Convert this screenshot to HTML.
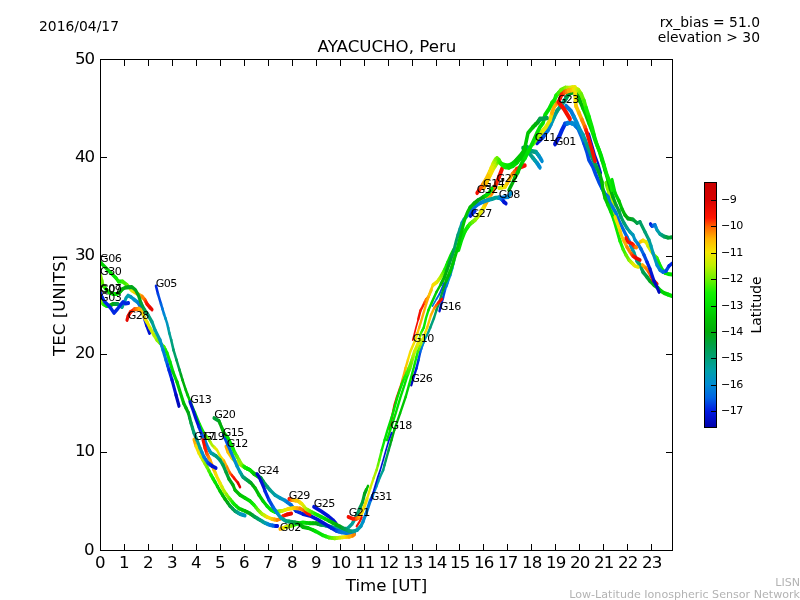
<!DOCTYPE html>
<html lang="en"><head><meta charset="utf-8"><title>AYACUCHO, Peru - TEC</title>
<style>
html,body{margin:0;padding:0;background:#fff;}
body{width:800px;height:600px;overflow:hidden;}
svg{display:block;font-family:"DejaVu Sans","Liberation Sans",sans-serif;}
.t12{font-size:16.67px;}
.t10{font-size:13.89px;}
.sat{font-size:11.1px;letter-spacing:-0.55px;}
.ft{font-size:11.1px;fill:#b3b3b3;}
.ax{stroke:#000;stroke-width:1;fill:none;shape-rendering:crispEdges;}
.c{fill:none;stroke-width:3.1;stroke-linecap:round;stroke-linejoin:round;}
</style></head><body>
<svg width="800" height="600" viewBox="0 0 800 600">
<defs><linearGradient id="cb" x1="0" y1="1" x2="0" y2="0">
<stop offset="0" stop-color="#0000aa"/><stop offset="0.065" stop-color="#0019e1"/><stop offset="0.12" stop-color="#0064e4"/><stop offset="0.175" stop-color="#008cd2"/><stop offset="0.23" stop-color="#00a0aa"/><stop offset="0.28" stop-color="#00a078"/><stop offset="0.335" stop-color="#00a046"/><stop offset="0.39" stop-color="#00aa0a"/><stop offset="0.445" stop-color="#00c300"/><stop offset="0.5" stop-color="#00e100"/><stop offset="0.55" stop-color="#14f000"/><stop offset="0.605" stop-color="#6ef000"/><stop offset="0.66" stop-color="#bef000"/><stop offset="0.715" stop-color="#f5e600"/><stop offset="0.77" stop-color="#ffb400"/><stop offset="0.82" stop-color="#ff6400"/><stop offset="0.855" stop-color="#ff1400"/><stop offset="0.93" stop-color="#d70000"/><stop offset="1" stop-color="#c80000"/></linearGradient></defs>
<clipPath id="axclip"><rect x="100.5" y="59.5" width="572" height="491"/></clipPath>
<rect width="800" height="600" fill="#fff"/>
<g clip-path="url(#axclip)"><g class="c" transform="scale(1,1.25)"><g><path stroke="#66f000" stroke-width="3.35" d="M606,146.4 607.5,150.4"/><path stroke="#8bf000" stroke-width="3.32" d="M607.5,150.4 609,154.4"/><path stroke="#aff000" stroke-width="3.29" d="M609,154.4 612,161.6"/><path stroke="#cded00" stroke-width="3.25" d="M612,161.6 613.5,167.6"/><path stroke="#e6e900" stroke-width="3.21" d="M613.5,167.6 615,173.6"/></g><g stroke-width="3.29"><path stroke="#0013d4" stroke-width="3.79" d="M555,115.2 559,109.6"/><path stroke="#0027e2" stroke-width="3.85" d="M559,109.6 562,104 565,99.2"/><path stroke="#0049e3" stroke-width="3.88" d="M565,99.2 567.5,98.6"/><path stroke="#007ada" stroke-width="3.88" d="M567.5,98.6 570,98 572,98.6"/><path stroke="#008cd2" stroke-width="3.88" d="M572,98.6 574,99.2 576,100.8"/><path stroke="#007ada" stroke-width="3.86" d="M576,100.8 578,102.4"/><path stroke="#0068e2" stroke-width="3.82" d="M578,102.4 581,108 584,114.4"/><path stroke="#0049e3" stroke-width="3.65" d="M584,114.4 587,121.6 589,128 593,133.6 596,140 599,145.6 602,150.4"/><path stroke="#0068e2" stroke-width="3.52" d="M602,150.4 605,155.2 608,157.6"/><path stroke="#007ada" stroke-width="3.44" d="M608,157.6 610,162.4 613,166.4 616,170.4 618,175.2"/><path stroke="#0068e2" d="M618,175.2 621,180 624,184.8 627,189.6"/><path stroke="#007ada" d="M627,189.6 629,192.8"/><path stroke="#008cd2" d="M629,192.8 631,196.8"/><path stroke="#0095c0" d="M631,196.8 632.5,199.6"/><path stroke="#009eae" d="M632.5,199.6 634,202.4"/><path stroke="#00a096" d="M634,202.4 635.5,205.6 637,208.8"/><path stroke="#00a07d" d="M637,208.8 640,212"/><path stroke="#00a066" d="M640,212 643,217.6"/><path stroke="#00a04f" d="M643,217.6 647,221.6"/><path stroke="#00a336" d="M647,221.6 648.5,223.2 650,224.8"/><path stroke="#00a71a" d="M650,224.8 654,228"/><path stroke="#00ba04" d="M654,228 658,230.4"/><path stroke="#00c600" d="M658,230.4 661,232.8"/><path stroke="#00d300" d="M661,232.8 664,234.4 668,235.6"/><path stroke="#00e100" d="M668,235.6 672,236.8"/></g><g><path stroke="#ffac00" d="M280,423.2 281.5,422.8"/><path stroke="#fbc600" d="M281.5,422.8 283,422.4"/><path stroke="#f7dd00" d="M283,422.4 284.5,422"/><path stroke="#e6e900" d="M284.5,422 286,421.6"/><path stroke="#cded00" d="M286,421.6 288,421.2"/><path stroke="#aff000" d="M288,421.2 290,420.8"/><path stroke="#8bf000" d="M290,420.8 292,420.4"/><path stroke="#66f000" d="M292,420.4 294,420"/><path stroke="#3df000" d="M294,420 296,419.4"/><path stroke="#14f000" d="M296,419.4 298,418.8"/><path stroke="#0ae800" d="M298,418.8 300.5,418.4"/><path stroke="#00e100" d="M300.5,418.4 303,418 306.5,418.3"/><path stroke="#00d300" d="M306.5,418.3 310,418.6"/><path stroke="#00c600" d="M310,418.6 313,418.6"/><path stroke="#00ba04" d="M313,418.6 316,418.6"/><path stroke="#00af08" d="M316,418.6 317.8,419"/><path stroke="#00a71a" d="M317.8,419 319.5,419.4"/><path stroke="#00a336" d="M319.5,419.4 321.2,419.8"/><path stroke="#00a04f" d="M321.2,419.8 323.5,420.1"/><path stroke="#00a066" d="M323.5,420.1 325.8,420.4"/><path stroke="#00a07d" d="M325.8,420.4 335,422.4"/><path stroke="#00a096" d="M335,422.4 342,423.2 347.5,422.8 352,419.2 354.2,416.2 356.1,413.2"/><path stroke="#00a07d" d="M356.1,413.2 358,410.2"/><path stroke="#00a066" d="M358,410.2 360.2,406"/><path stroke="#00a04f" d="M360.2,406 362.5,401.8"/><path stroke="#00a336" d="M362.5,401.8 363.5,398.5 364.5,395.2"/><path stroke="#00a71a" d="M364.5,395.2 366.2,392"/><path stroke="#00ba04" stroke-width="2.36" d="M366.2,392 368,388.8"/></g><g><path stroke="#aff000" d="M100.5,239.2 101.8,241.2"/><path stroke="#8bf000" d="M101.8,241.2 103,243.2"/><path stroke="#3df000" d="M103,243.2 104.3,243.7"/><path stroke="#14f000" d="M104.3,243.7 105.7,244.3"/><path stroke="#0ae800" d="M105.7,244.3 107,244.8"/><path stroke="#00e100" d="M107,244.8 108,244.7"/><path stroke="#00d300" d="M108,244.7 109,244.5"/><path stroke="#00c600" d="M109,244.5 110,244.4 111,244"/><path stroke="#00ba04" d="M111,244 112,243.6"/><path stroke="#00af08" d="M112,243.6 113,243.2"/><path stroke="#00a71a" d="M113,243.2 115.2,243.2"/><path stroke="#00a336" d="M115.2,243.2 117.5,243.2"/><path stroke="#00a04f" d="M117.5,243.2 119.8,244.4"/><path stroke="#00a07d" d="M119.8,244.4 122,245.6"/><path stroke="#00a096" d="M122,245.6 124.5,241.6"/><path stroke="#009eae" d="M124.5,241.6 126,238.4 128,236.4 131,237.6"/><path stroke="#0095c0" d="M131,237.6 134,239.6"/><path stroke="#008cd2" d="M134,239.6 138,242"/><path stroke="#007ada" d="M138,242 140,244.8"/><path stroke="#0068e2" d="M140,244.8 143,251.2"/><path stroke="#0027e2" d="M143,251.2 146.5,260"/><path stroke="#0013d4" d="M146.5,260 148,263.2 149.5,266.4"/></g><g><path stroke="#fbc600" d="M640,193.6 643,192.4"/><path stroke="#f7dd00" d="M643,192.4 646,193.6"/><path stroke="#e6e900" d="M646,193.6 648,196.8"/><path stroke="#cded00" d="M648,196.8 651,200.8 654,204"/><path stroke="#aff000" d="M654,204 655.5,205.2"/><path stroke="#66f000" d="M655.5,205.2 657,206.4"/><path stroke="#3df000" d="M657,206.4 658,208.4"/><path stroke="#14f000" d="M658,208.4 659,210.4"/><path stroke="#0ae800" d="M659,210.4 662,215.2 665,218.4"/><path stroke="#00e100" d="M665,218.4 668,219.2 672,219.6"/></g><g><path stroke="#0013d4" d="M650.5,179.2 651.2,180"/><path stroke="#0027e2" d="M651.2,180 652,180.8"/><path stroke="#0049e3" d="M652,180.8 653.5,180.4"/><path stroke="#0068e2" d="M653.5,180.4 655,180"/><path stroke="#007ada" d="M655,180 656,182"/><path stroke="#008cd2" d="M656,182 657,184"/><path stroke="#009eae" d="M657,184 660,187.2"/><path stroke="#00a096" d="M660,187.2 662,188.2"/><path stroke="#00a07d" d="M662,188.2 664,189.2"/><path stroke="#00a066" d="M664,189.2 666,189.6"/><path stroke="#00a04f" d="M666,189.6 668,190.1"/><path stroke="#00a336" d="M668,190.1 670,190 672,189.8"/></g><g stroke-width="2.52"><path stroke="#0027e2" d="M156,228.8 158,235.2"/><path stroke="#0049e3" d="M158,235.2 161,243.2"/><path stroke="#0068e2" d="M161,243.2 162.5,247.2"/><path stroke="#007ada" d="M162.5,247.2 164,251.2"/><path stroke="#008cd2" d="M164,251.2 165.5,254.8"/><path stroke="#0095c0" d="M165.5,254.8 167,258.4 168.2,262.4"/><path stroke="#009eae" d="M168.2,262.4 169.3,266.4"/><path stroke="#00a096" d="M169.3,266.4 171.2,272"/><path stroke="#00a07d" d="M171.2,272 173.5,280"/><path stroke="#00a066" d="M173.5,280 176.5,288"/><path stroke="#00a04f" d="M176.5,288 179.5,296"/><path stroke="#00a336" d="M179.5,296 181,300"/><path stroke="#00a71a" d="M181,300 182.5,304"/><path stroke="#00af08" d="M182.5,304 185.8,312"/><path stroke="#00ba04" d="M185.8,312 187.6,316"/><path stroke="#00c600" d="M187.6,316 190,320.8"/><path stroke="#00d300" d="M190,320.8 195,330.4"/><path stroke="#00e100" d="M195,330.4 197.5,335.2 200,340"/><path stroke="#0ae800" d="M200,340 204,346.4"/><path stroke="#3df000" d="M204,346.4 208,350.4"/><path stroke="#66f000" d="M208,350.4 209.3,352.3"/><path stroke="#8bf000" d="M209.3,352.3 210.7,354.1"/><path stroke="#aff000" d="M210.7,354.1 212,356 214.5,358"/><path stroke="#e6e900" d="M214.5,358 217,360 220,364.8"/><path stroke="#f7dd00" d="M220,364.8 224,368.8"/><path stroke="#ffac00" d="M224,368.8 227,373.6"/><path stroke="#ff8400" d="M227,373.6 228.5,376 230,378.4"/><path stroke="#ff5900" d="M230,378.4 232,380.4"/><path stroke="#ff1f00" d="M232,380.4 234,382.4"/><path stroke="#f40f00" d="M234,382.4 238,386.4"/><path stroke="#da0100" d="M238,386.4 240,389.6"/></g><g><path stroke="#00d300" d="M100.5,210 105,213.6 110,217.6"/><path stroke="#00e100" d="M110,217.6 116,222.4"/><path stroke="#0ae800" d="M116,222.4 118.5,225.2"/><path stroke="#14f000" d="M118.5,225.2 122.5,225.2"/><path stroke="#3df000" d="M122.5,225.2 127,228"/><path stroke="#66f000" d="M127,228 128.4,229.2"/><path stroke="#aff000" d="M128.4,229.2 129.8,230.4 131.1,231.6"/><path stroke="#e6e900" d="M131.1,231.6 132.5,232.8 134.8,233.8"/><path stroke="#fbc600" d="M134.8,233.8 137,234.8"/><path stroke="#ffac00" d="M137,234.8 142,237.2"/><path stroke="#ff8400" d="M142,237.2 143.5,238.6 145,240"/><path stroke="#ff5900" d="M145,240 146,241.6"/><path stroke="#ff1f00" d="M146,241.6 147,243.2"/><path stroke="#f40f00" d="M147,243.2 150,246"/><path stroke="#e70800" d="M150,246 152,247.6"/></g><g stroke-width="1.94"><path stroke="#0013d4" stroke-width="2.18" d="M589,107.2 595,124 598,130.4 601,138.4"/></g><g><path stroke="#007ada" stroke-width="3.71" d="M566,84.8 571,88.8 574,93.6"/><path stroke="#008cd2" stroke-width="3.66" d="M574,93.6 577,98.4 579,102.4"/><path stroke="#0095c0" stroke-width="3.61" d="M579,102.4 583,108"/><path stroke="#009eae" stroke-width="3.58" d="M583,108 585,112"/><path stroke="#00a096" stroke-width="3.56" d="M585,112 587,116"/><path stroke="#00a07d" stroke-width="3.52" d="M587,116 591,124"/><path stroke="#00a066" stroke-width="3.47" d="M591,124 594,129.6 595.5,132"/><path stroke="#00a04f" stroke-width="3.44" d="M595.5,132 597,134.4"/><path stroke="#00a336" stroke-width="3.42" d="M597,134.4 598.5,137.2"/><path stroke="#00a71a" stroke-width="3.41" d="M598.5,137.2 600,140"/><path stroke="#00af08" stroke-width="3.38" d="M600,140 601,142.8 602,145.6"/><path stroke="#00ba04" stroke-width="3.32" d="M602,145.6 603,152 605,158.4"/><path stroke="#00c600" stroke-width="3.27" d="M605,158.4 608,164"/><path stroke="#00d300" stroke-width="3.23" d="M608,164 611,169.6"/><path stroke="#00e100" stroke-width="3.19" d="M611,169.6 614,176"/><path stroke="#0ae800" d="M614,176 616,181.6 618,187.2 620,192.8"/><path stroke="#14f000" d="M620,192.8 623,199.2"/><path stroke="#3df000" d="M623,199.2 626,204"/><path stroke="#66f000" d="M626,204 629,208"/><path stroke="#8bf000" d="M629,208 630.5,209.2"/><path stroke="#aff000" d="M630.5,209.2 632,210.4"/><path stroke="#cded00" d="M632,210.4 633.5,211.6"/><path stroke="#e6e900" d="M633.5,211.6 635,212.8 638,213.6"/></g><g><path stroke="#00a07d" stroke-width="3.49" d="M529,122.4 533,126.4"/><path stroke="#00a096" stroke-width="3.48" d="M533,126.4 535,128.4"/><path stroke="#009eae" stroke-width="3.46" d="M535,128.4 537,130.4"/><path stroke="#0095c0" stroke-width="3.45" d="M537,130.4 538.5,132.2"/><path stroke="#008cd2" stroke-width="3.44" d="M538.5,132.2 540,134"/></g><g><path stroke="#00a04f" stroke-width="3.53" d="M523,118.4 527,117.6"/><path stroke="#00a066" stroke-width="3.53" d="M527,117.6 529,119.2"/><path stroke="#00a07d" stroke-width="3.52" d="M529,119.2 531,120.8 536,121.6"/><path stroke="#00a096" stroke-width="3.51" d="M536,121.6 537.5,123.2"/><path stroke="#009eae" stroke-width="3.50" d="M537.5,123.2 539,124.8"/><path stroke="#0095c0" stroke-width="3.49" d="M539,124.8 540.5,126.8"/><path stroke="#008cd2" stroke-width="3.47" d="M540.5,126.8 542,128.8"/></g><g><path stroke="#007ada" stroke-width="3.29" d="M498.5,158.4 503,158 508,157.6"/><path stroke="#008cd2" stroke-width="3.30" d="M508,157.6 511,154.4"/></g><g><path stroke="#0013d4" d="M100.5,234.4 102,237.6"/><path stroke="#0027e2" d="M102,237.6 104.5,241.2 108,244 111,246.8 114,250.4 117.5,247.2 120.5,244 123,241.6 125.5,242.8 128.5,242.4"/></g><g stroke-width="2.23"><path stroke="#f40f00" stroke-width="1.69" d="M412.8,272 416,262 418.4,255.2"/></g><g><path stroke="#f40f00" stroke-width="2.36" d="M418.3,255.2 420.4,248.6"/><path stroke="#ff1f00" stroke-width="2.36" d="M420.4,248.6 422.5,245.4 424.6,242"/><path stroke="#ff5900" stroke-width="2.36" d="M424.6,242 426,239.6"/><path stroke="#ff8400" stroke-width="2.36" d="M426,239.6 428.5,237.2"/><path stroke="#ffac00" stroke-width="2.36" d="M428.5,237.2 431,232"/><path stroke="#fbc600" stroke-width="2.36" d="M431,232 433,228"/><path stroke="#f7dd00" d="M433,228 437,225.6"/><path stroke="#e6e900" d="M437,225.6 438.5,224"/><path stroke="#cded00" d="M438.5,224 440,222.4"/><path stroke="#aff000" d="M440,222.4 441.5,220.4"/><path stroke="#8bf000" d="M441.5,220.4 443,218.4"/><path stroke="#66f000" d="M443,218.4 444,216.8"/><path stroke="#3df000" d="M444,216.8 445,215.2"/><path stroke="#14f000" d="M445,215.2 446.5,212.4"/><path stroke="#0ae800" d="M446.5,212.4 448,209.6"/><path stroke="#00e100" d="M448,209.6 451,204 453.5,200"/></g><g><path stroke="#ffac00" d="M642.5,212 645.8,214.4"/><path stroke="#ff8400" d="M645.8,214.4 648.8,217.6"/><path stroke="#ff5900" d="M648.8,217.6 651,220.8"/><path stroke="#ff1f00" d="M651,220.8 652,222.4 653,224"/><path stroke="#f40f00" d="M653,224 657,227.2"/></g><g><path stroke="#0013d4" stroke-width="3.56" d="M537,114.4 540,112"/><path stroke="#0027e2" stroke-width="3.58" d="M540,112 543,109.6"/><path stroke="#0049e3" stroke-width="3.59" d="M543,109.6 545.5,106.8"/><path stroke="#0068e2" stroke-width="3.61" d="M545.5,106.8 548,104"/><path stroke="#007ada" stroke-width="3.63" d="M548,104 549.5,101.6"/><path stroke="#008cd2" stroke-width="3.64" d="M549.5,101.6 551,99.2"/><path stroke="#0095c0" stroke-width="3.66" d="M551,99.2 552.5,96.4"/><path stroke="#009eae" stroke-width="3.68" d="M552.5,96.4 554,93.6"/><path stroke="#00a096" stroke-width="3.70" d="M554,93.6 557,88.8"/><path stroke="#00a07d" stroke-width="3.72" d="M557,88.8 560,85.6 565,80"/><path stroke="#00a066" stroke-width="3.72" d="M565,80 566.5,78"/><path stroke="#00a04f" stroke-width="3.72" d="M566.5,78 568,76"/><path stroke="#00a336" stroke-width="3.72" d="M568,76 570,74.4"/><path stroke="#00a71a" stroke-width="3.72" d="M570,74.4 575,73.6"/><path stroke="#00af08" stroke-width="3.72" d="M575,73.6 578,76 580,80.8"/><path stroke="#00ba04" stroke-width="3.72" d="M580,80.8 583,86.4"/><path stroke="#00c600" stroke-width="3.69" d="M583,86.4 586,92 589,98.4"/><path stroke="#00d300" stroke-width="3.57" d="M589,98.4 592,104.8 595,112 599,120 602,128"/><path stroke="#00c600" stroke-width="3.45" d="M602,128 605,136"/><path stroke="#00ba04" stroke-width="3.40" d="M605,136 608,144"/><path stroke="#00af08" stroke-width="3.33" d="M608,144 610,150.4 613,157.6"/><path stroke="#00a71a" stroke-width="3.27" d="M613,157.6 616,164"/><path stroke="#00a336" stroke-width="3.23" d="M616,164 619,168.8"/><path stroke="#00a04f" stroke-width="3.20" d="M619,168.8 621,173.6"/><path stroke="#00a066" d="M621,173.6 624,178.4"/><path stroke="#00a07d" d="M624,178.4 627,182.4"/><path stroke="#00a096" d="M627,182.4 630,185.6"/><path stroke="#009eae" d="M630,185.6 633,188"/><path stroke="#0095c0" d="M633,188 635,192"/><path stroke="#008cd2" d="M635,192 638,195.2"/><path stroke="#007ada" d="M638,195.2 641,199.2"/><path stroke="#0068e2" d="M641,199.2 644,204"/><path stroke="#0049e3" d="M644,204 647,209.6"/><path stroke="#0027e2" d="M647,209.6 650,215.2"/><path stroke="#0013d4" d="M650,215.2 652,220 654,224.8"/><path stroke="#000abf" d="M654,224.8 657,229.6 659,233.6"/></g><g><path stroke="#ffac00" d="M226,357.2 228,361.6"/><path stroke="#fbc600" d="M228,361.6 232,366.4"/><path stroke="#f7dd00" d="M232,366.4 236,369.6"/><path stroke="#e6e900" d="M236,369.6 238.5,370.8"/><path stroke="#cded00" d="M238.5,370.8 241,372"/><path stroke="#aff000" d="M241,372 243,373"/><path stroke="#8bf000" d="M243,373 245,374"/><path stroke="#3df000" d="M245,374 246.7,374.7"/><path stroke="#14f000" d="M246.7,374.7 248.3,375.3"/><path stroke="#0ae800" d="M248.3,375.3 250,376"/><path stroke="#00e100" d="M250,376 252,377.6"/><path stroke="#00d300" d="M252,377.6 254,379.2"/><path stroke="#00c600" d="M254,379.2 258,381.2"/><path stroke="#00ba04" d="M258,381.2 259,381.6"/><path stroke="#00af08" d="M259,381.6 260,382"/><path stroke="#00a71a" d="M260,382 261,382.4"/><path stroke="#00a336" d="M261,382.4 263,384.8"/><path stroke="#00a04f" d="M263,384.8 265,387.2"/><path stroke="#00a066" d="M265,387.2 267.5,389.6"/><path stroke="#00a07d" d="M267.5,389.6 270,392"/><path stroke="#00a096" d="M270,392 275,396"/><path stroke="#009eae" d="M275,396 280,398.4"/><path stroke="#0095c0" d="M280,398.4 285,400.4"/><path stroke="#008cd2" d="M285,400.4 287,401.6"/><path stroke="#007ada" d="M287,401.6 291,404"/><path stroke="#0068e2" d="M291,404 293.5,406.4"/><path stroke="#0049e3" d="M293.5,406.4 296,408.8"/><path stroke="#0027e2" d="M296,408.8 303,411.2"/><path stroke="#0013d4" d="M303,411.2 310,412.6 317.5,415.6 325,419.2 331,422.2"/><path stroke="#0027e2" d="M331,422.2 336.2,424.6"/><path stroke="#0049e3" d="M336.2,424.6 338.9,425.2"/><path stroke="#0068e2" d="M338.9,425.2 341.5,425.8"/><path stroke="#007ada" d="M341.5,425.8 346,426.4 350.5,427 354.5,426.8"/></g><g><path stroke="#0013d4" d="M190,321.6 193,328 196,335.2 199,341.6"/><path stroke="#0027e2" d="M199,341.6 202,348"/><path stroke="#0049e3" d="M202,348 203.5,350.4"/><path stroke="#0068e2" d="M203.5,350.4 205,352.8"/><path stroke="#007ada" d="M205,352.8 206.5,355.6 208,358.4"/><path stroke="#008cd2" d="M208,358.4 209.5,360.4"/><path stroke="#0095c0" d="M209.5,360.4 211,362.4"/><path stroke="#009eae" d="M211,362.4 213.5,363.6"/><path stroke="#00a096" d="M213.5,363.6 216,364.8"/><path stroke="#00a07d" d="M216,364.8 220,368"/><path stroke="#00a066" d="M220,368 223,372"/><path stroke="#00a04f" d="M223,372 226,377.6"/><path stroke="#00a336" d="M226,377.6 229,383.2"/><path stroke="#00a71a" d="M229,383.2 233,388"/><path stroke="#00af08" d="M233,388 235,392"/><path stroke="#00ba04" d="M235,392 240,396"/><path stroke="#00c600" d="M240,396 245,398.4"/><path stroke="#00d300" d="M245,398.4 250,400.8"/><path stroke="#00e100" d="M250,400.8 252,402.4"/><path stroke="#0ae800" d="M252,402.4 254,404"/><path stroke="#14f000" d="M254,404 256,406"/><path stroke="#3df000" d="M256,406 258,408"/><path stroke="#66f000" d="M258,408 260,409.6"/><path stroke="#8bf000" d="M260,409.6 262,411.2"/><path stroke="#aff000" d="M262,411.2 264.5,412.4"/><path stroke="#cded00" d="M264.5,412.4 267,413.6"/><path stroke="#f7dd00" d="M267,413.6 272,415.2"/><path stroke="#fbc600" d="M272,415.2 274.5,415.6"/><path stroke="#ffac00" d="M274.5,415.6 277,416"/><path stroke="#ff8400" d="M277,416 280,415.2 281.5,414"/><path stroke="#ff5900" d="M281.5,414 283,412.8"/><path stroke="#ff1f00" d="M283,412.8 285,412.2"/><path stroke="#f40f00" d="M285,412.2 287,411.6"/><path stroke="#e70800" d="M287,411.6 289.2,411.2 291.5,410.8"/></g><g stroke-width="3.49"><path stroke="#00e100" d="M458.5,200 461.5,192 465,184.8"/><path stroke="#0ae800" d="M465,184.8 468,181.2"/><path stroke="#14f000" d="M468,181.2 470,179.2"/><path stroke="#3df000" d="M470,179.2 472.5,177.6"/><path stroke="#66f000" d="M472.5,177.6 475,176"/><path stroke="#8bf000" d="M475,176 477,174"/><path stroke="#aff000" stroke-width="3.59" d="M477,174 479,172"/><path stroke="#cded00" stroke-width="3.61" d="M479,172 480.5,170"/><path stroke="#e6e900" stroke-width="3.63" d="M480.5,170 482,168 484,165.6"/><path stroke="#f7dd00" stroke-width="3.65" d="M484,165.6 485.2,163.6"/><path stroke="#fbc600" stroke-width="3.66" d="M485.2,163.6 486.5,161.6"/><path stroke="#ffac00" stroke-width="3.70" d="M486.5,161.6 489,157.6 491.5,154.8"/><path stroke="#ff8400" stroke-width="3.74" d="M491.5,154.8 494,151.2 495,149.2"/><path stroke="#ff5900" stroke-width="3.77" d="M495,149.2 496,147.2"/><path stroke="#ff1f00" stroke-width="3.79" d="M496,147.2 497.5,144.4 499,141.6"/><path stroke="#f40f00" stroke-width="3.83" d="M499,141.6 502,135.2"/></g><g><path stroke="#ffac00" stroke-width="3.35" d="M484,150.4 487,145.6"/><path stroke="#fbc600" stroke-width="3.38" d="M487,145.6 490.5,139.6"/><path stroke="#f7dd00" stroke-width="3.42" d="M490.5,139.6 494,134"/><path stroke="#cded00" stroke-width="3.44" d="M494,134 495.5,132.2"/><path stroke="#aff000" stroke-width="3.45" d="M495.5,132.2 497,130.4"/><path stroke="#8bf000" stroke-width="3.46" d="M497,130.4 498,129.8"/><path stroke="#66f000" stroke-width="3.46" d="M498,129.8 499,129.2"/><path stroke="#3df000" stroke-width="3.46" d="M499,129.2 501.5,131.6"/><path stroke="#14f000" stroke-width="3.44" d="M501.5,131.6 505,133.6"/><path stroke="#0ae800" stroke-width="3.44" d="M505,133.6 509,134"/><path stroke="#00e100" stroke-width="3.45" d="M509,134 513,132.8 517,130"/><path stroke="#00d300" stroke-width="3.47" d="M517,130 521,126.4"/><path stroke="#00c600" stroke-width="3.50" d="M521,126.4 524,123.2 526,120"/></g><g><path stroke="#0027e2" d="M223.5,348 225,350.4"/><path stroke="#0049e3" d="M225,350.4 228,356"/><path stroke="#0068e2" d="M228,356 231,361.6"/><path stroke="#007ada" d="M231,361.6 234,367.2"/><path stroke="#008cd2" d="M234,367.2 237,372.8"/><path stroke="#0095c0" d="M237,372.8 238.5,375.2 240,377.6"/><path stroke="#009eae" d="M240,377.6 241.5,379.6"/><path stroke="#00a096" d="M241.5,379.6 243,381.6"/><path stroke="#00a07d" d="M243,381.6 245,382.8"/><path stroke="#00a066" d="M245,382.8 247,384"/><path stroke="#00a04f" d="M247,384 249,385.2"/><path stroke="#00a336" d="M249,385.2 251,386.4"/><path stroke="#00a71a" d="M251,386.4 253,388.4"/><path stroke="#00af08" d="M253,388.4 255,390.4"/><path stroke="#00ba04" d="M255,390.4 259,396"/><path stroke="#00c600" d="M259,396 263,400.8"/><path stroke="#00d300" d="M263,400.8 267,404.8"/><path stroke="#00e100" d="M267,404.8 271,408 273,408.8"/><path stroke="#0ae800" d="M273,408.8 275,409.6"/><path stroke="#14f000" d="M275,409.6 277,409.4"/><path stroke="#3df000" d="M277,409.4 279,409.2"/><path stroke="#66f000" d="M279,409.2 280,409.1"/><path stroke="#8bf000" d="M280,409.1 281,408.9"/><path stroke="#aff000" d="M281,408.9 282,408.8"/><path stroke="#cded00" d="M282,408.8 285,408"/><path stroke="#e6e900" d="M285,408 288,407.2"/><path stroke="#f7dd00" d="M288,407.2 294,406.4"/><path stroke="#fbc600" d="M294,406.4 297,406.6"/><path stroke="#ffac00" d="M297,406.6 300,406.8"/><path stroke="#ff8400" d="M300,406.8 302,407.6 304,408.4"/><path stroke="#ff5900" d="M304,408.4 305.5,409.4"/><path stroke="#ff1f00" d="M305.5,409.4 307,410.4"/><path stroke="#f40f00" d="M307,410.4 310,411.6"/></g><g><path stroke="#0013d4" stroke-width="2.36" d="M439.5,248.8 441,244"/><path stroke="#0027e2" stroke-width="2.36" d="M441,244 443,238.4"/><path stroke="#0049e3" stroke-width="2.36" d="M443,238.4 445,232"/><path stroke="#0068e2" stroke-width="2.36" d="M445,232 446.2,228.8"/><path stroke="#007ada" d="M446.2,228.8 447.5,225.6"/><path stroke="#008cd2" d="M447.5,225.6 450,220"/><path stroke="#0095c0" d="M450,220 451,217.2 452,214.4"/><path stroke="#009eae" d="M452,214.4 453,211.2"/><path stroke="#00a096" d="M453,211.2 454,208"/></g><g><path stroke="#007ada" stroke-width="3.22" d="M470,169.6 471,168.8"/></g><g><path stroke="#ffac00" d="M194,351.6 196,356.8"/><path stroke="#f7dd00" d="M196,356.8 199,362.4"/><path stroke="#e6e900" d="M199,362.4 201,365.2"/><path stroke="#cded00" d="M201,365.2 203,368"/><path stroke="#aff000" d="M203,368 205,370.8"/><path stroke="#8bf000" d="M205,370.8 207,373.6"/><path stroke="#66f000" d="M207,373.6 209,376.8"/><path stroke="#3df000" d="M209,376.8 211,380"/><path stroke="#14f000" d="M211,380 213,382.8"/><path stroke="#0ae800" d="M213,382.8 215,385.6"/><path stroke="#00e100" d="M215,385.6 217.5,389.2"/><path stroke="#00d300" d="M217.5,389.2 220,392.8"/><path stroke="#00c600" d="M220,392.8 222.5,396"/><path stroke="#00ba04" d="M222.5,396 225,399.2"/><path stroke="#00af08" d="M225,399.2 227.5,402"/><path stroke="#00a71a" d="M227.5,402 230,404.8"/><path stroke="#00a336" d="M230,404.8 232.5,406.8"/><path stroke="#00a04f" d="M232.5,406.8 235,408.8"/><path stroke="#00a066" d="M235,408.8 236.7,409.6"/><path stroke="#00a07d" d="M236.7,409.6 238.3,410.4"/><path stroke="#00a096" d="M238.3,410.4 240,411.2"/><path stroke="#009eae" d="M240,411.2 242.5,411.8"/><path stroke="#0095c0" d="M242.5,411.8 245,412.4"/></g><g><path stroke="#e70800" stroke-width="2.36" d="M389.5,343.2 392,333.6"/><path stroke="#f40f00" stroke-width="2.36" d="M392,333.6 394.5,324 397,317.6"/><path stroke="#ff1f00" stroke-width="2.36" d="M397,317.6 398.5,314.1 400,310.6"/><path stroke="#ff5900" stroke-width="2.36" d="M400,310.6 401.4,307.2"/><path stroke="#ff8400" stroke-width="2.36" d="M401.4,307.2 403,302.4"/><path stroke="#ffac00" stroke-width="2.36" d="M403,302.4 405.5,294.6"/><path stroke="#fbc600" stroke-width="2.36" d="M405.5,294.6 407.9,288"/><path stroke="#f7dd00" stroke-width="2.36" d="M407.9,288 410.3,281.4 415.7,271.2 417.4,266.6"/><path stroke="#fbc600" stroke-width="2.36" d="M417.4,266.6 419.2,262"/><path stroke="#ffac00" stroke-width="2.36" d="M419.2,262 421.7,255.4 424.2,248.6 426.7,242 429.2,236"/><path stroke="#fbc600" stroke-width="2.36" d="M429.2,236 431.7,232"/></g><g><path stroke="#66f000" stroke-width="2.36" d="M419,272 420,269.2 421,266.4"/><path stroke="#3df000" stroke-width="2.36" d="M421,266.4 422.4,264.2"/><path stroke="#14f000" stroke-width="2.36" d="M422.4,264.2 423.8,262"/><path stroke="#0ae800" stroke-width="2.36" d="M423.8,262 426,254.4 428.5,248"/><path stroke="#00e100" stroke-width="2.36" d="M428.5,248 432,241.6"/><path stroke="#00d300" stroke-width="2.36" d="M432,241.6 436.5,233.6"/><path stroke="#00c600" stroke-width="2.36" d="M436.5,233.6 441,227.2"/><path stroke="#00ba04" d="M441,227.2 444.5,221.6"/><path stroke="#00af08" d="M444.5,221.6 447,216"/><path stroke="#00a71a" d="M447,216 449.5,210.4"/><path stroke="#00a336" d="M449.5,210.4 452,204.8"/><path stroke="#00a04f" d="M452,204.8 454,200"/><path stroke="#00a066" d="M454,200 456,193.6 458,188"/><path stroke="#00a07d" d="M458,188 460,183.2"/><path stroke="#00a096" d="M460,183.2 462,178.4"/><path stroke="#009eae" d="M462,178.4 464,175.6"/><path stroke="#0095c0" d="M464,175.6 466,173.6"/><path stroke="#008cd2" stroke-width="3.20" d="M466,173.6 468.5,171.2"/><path stroke="#007ada" stroke-width="3.21" d="M468.5,171.2 471,168.8"/><path stroke="#0068e2" stroke-width="3.23" d="M471,168.8 474,166.4 477,164"/><path stroke="#007ada" stroke-width="3.26" d="M477,164 481,162.2 483,161.5"/><path stroke="#008cd2" stroke-width="3.27" d="M483,161.5 485,160.8"/><path stroke="#0095c0" stroke-width="3.27" d="M485,160.8 489,159.8"/><path stroke="#009eae" stroke-width="3.28" d="M489,159.8 492,159.2"/><path stroke="#00a096" stroke-width="3.28" d="M492,159.2 495.5,158.2 499,158"/><path stroke="#009eae" stroke-width="3.29" d="M499,158 499.6,158.3"/><path stroke="#0095c0" stroke-width="3.28" d="M499.6,158.3 500.2,158.6"/><path stroke="#008cd2" stroke-width="3.28" d="M500.2,158.6 500.9,158.9"/><path stroke="#007ada" stroke-width="3.28" d="M500.9,158.9 501.5,159.2 502.1,159.8"/><path stroke="#0068e2" stroke-width="3.27" d="M502.1,159.8 502.8,160.4"/><path stroke="#0049e3" stroke-width="3.27" d="M502.8,160.4 503.4,161"/><path stroke="#0027e2" stroke-width="3.27" d="M503.4,161 504,161.6"/><path stroke="#0013d4" stroke-width="3.26" d="M504,161.6 506,162.8"/></g><g><path stroke="#f40f00" d="M203,352 205,358.4"/><path stroke="#ff1f00" d="M205,358.4 206,360.8 207,363.2"/><path stroke="#ff5900" d="M207,363.2 208.5,365.6"/><path stroke="#ff8400" d="M208.5,365.6 210,368"/><path stroke="#ffac00" d="M210,368 214,376"/><path stroke="#fbc600" d="M214,376 215.5,378.8"/><path stroke="#f7dd00" d="M215.5,378.8 217,381.6 220,386.4"/><path stroke="#e6e900" d="M220,386.4 222,389.6"/><path stroke="#cded00" d="M222,389.6 224,392.8"/><path stroke="#aff000" d="M224,392.8 226.5,395.6"/><path stroke="#8bf000" d="M226.5,395.6 229,398.4"/><path stroke="#66f000" d="M229,398.4 230.7,400"/><path stroke="#3df000" d="M230.7,400 232.3,401.6"/><path stroke="#14f000" d="M232.3,401.6 234,403.2"/><path stroke="#0ae800" d="M234,403.2 236.5,405"/><path stroke="#00e100" d="M236.5,405 239,406.8"/><path stroke="#00d300" d="M239,406.8 242,407.8"/><path stroke="#00c600" d="M242,407.8 245,408.8"/><path stroke="#00ba04" d="M245,408.8 247.5,409.8"/><path stroke="#00af08" d="M247.5,409.8 250,410.8"/><path stroke="#00a71a" d="M250,410.8 252.5,412.2"/><path stroke="#00a336" d="M252.5,412.2 255,413.6"/><path stroke="#00a04f" d="M255,413.6 257.5,414.8"/><path stroke="#00a066" d="M257.5,414.8 260,416"/><path stroke="#00a07d" d="M260,416 262.5,417.2"/><path stroke="#00a096" d="M262.5,417.2 265,418.4"/><path stroke="#009eae" d="M265,418.4 266.7,418.9"/><path stroke="#0095c0" d="M266.7,418.9 268.3,419.5"/><path stroke="#008cd2" d="M268.3,419.5 270,420"/><path stroke="#007ada" d="M270,420 272.5,420.4"/><path stroke="#0068e2" d="M272.5,420.4 275,420.8"/><path stroke="#0049e3" d="M275,420.8 276.2,420.8"/><path stroke="#0013d4" d="M276.2,420.8 277.5,420.8"/></g><g><path stroke="#f7dd00" d="M615,173.6 618,180 620,184.8"/><path stroke="#fbc600" d="M620,184.8 622,189.6 624,192.8"/><path stroke="#ffac00" d="M624,192.8 627,197.6"/><path stroke="#ff8400" d="M627,197.6 630,201.6 631.5,203.2"/><path stroke="#ff5900" d="M631.5,203.2 633,204.8"/><path stroke="#ff1f00" d="M633,204.8 634.5,205.6"/><path stroke="#f40f00" d="M634.5,205.6 636,206.4"/><path stroke="#e70800" d="M636,206.4 638,207.2 640,208"/></g><g><path stroke="#00a336" d="M214,334.4 219,336.8"/><path stroke="#00a71a" d="M219,336.8 220,338.8"/><path stroke="#00af08" d="M220,338.8 221,340.8 222.5,343.6"/><path stroke="#00ba04" d="M222.5,343.6 224,346.4"/><path stroke="#00c600" d="M224,346.4 226,348.4"/><path stroke="#00d300" d="M226,348.4 228,350.4"/><path stroke="#00e100" d="M228,350.4 231,355.2"/><path stroke="#0ae800" d="M231,355.2 233,358.8"/><path stroke="#14f000" d="M233,358.8 235,362.4"/><path stroke="#3df000" d="M235,362.4 237,365.2"/><path stroke="#66f000" d="M237,365.2 239,368"/><path stroke="#8bf000" d="M239,368 242,372 242.8,372.5"/><path stroke="#66f000" d="M242.8,372.5 243.5,373"/><path stroke="#3df000" d="M243.5,373 244.2,373.5"/><path stroke="#14f000" d="M244.2,373.5 245,374"/><path stroke="#0ae800" d="M245,374 247.5,375"/><path stroke="#00e100" d="M247.5,375 250,376 252,377.4"/><path stroke="#00d300" d="M252,377.4 254,378.8"/><path stroke="#00c600" d="M254,378.8 257,380.4"/></g><g><path stroke="#00e100" stroke-width="2.36" d="M387,352 390.3,344 395.7,330.6 400.6,317.4 404.5,308 406,304"/><path stroke="#0ae800" stroke-width="2.36" d="M406,304 408.1,299.3"/><path stroke="#3df000" stroke-width="2.36" d="M408.1,299.3 410.3,294.6"/><path stroke="#66f000" stroke-width="2.36" d="M410.3,294.6 411.9,290.2"/><path stroke="#8bf000" stroke-width="2.36" d="M411.9,290.2 413.4,285.8"/><path stroke="#aff000" stroke-width="2.36" d="M413.4,285.8 415,281.4"/><path stroke="#cded00" stroke-width="2.36" d="M415,281.4 417.8,276.3"/><path stroke="#e6e900" stroke-width="2.36" d="M417.8,276.3 420.5,271.2"/></g><g><path stroke="#f40f00" d="M348.2,413.5 352.8,415"/><path stroke="#ff1f00" d="M352.8,415 354.6,415 356.5,415"/><path stroke="#ff5900" d="M356.5,415 358,414.3"/><path stroke="#ff8400" d="M358,414.3 359.5,413.5"/><path stroke="#ffac00" d="M359.5,413.5 360.6,411.9"/><path stroke="#fbc600" d="M360.6,411.9 361.8,410.2"/><path stroke="#f7dd00" d="M361.8,410.2 364,406 367,399.2"/><path stroke="#e6e900" stroke-width="2.36" d="M367,399.2 370.3,390.4"/><path stroke="#cded00" stroke-width="2.36" d="M370.3,390.4 373.7,382.4"/><path stroke="#aff000" stroke-width="2.36" d="M373.7,382.4 375.1,379.2 376.6,376"/><path stroke="#8bf000" stroke-width="2.36" d="M376.6,376 378,372"/><path stroke="#66f000" stroke-width="2.36" d="M378,372 379.3,368"/><path stroke="#3df000" stroke-width="2.36" d="M379.3,368 381.8,360"/><path stroke="#0ae800" stroke-width="2.36" d="M381.8,360 384.6,352"/><path stroke="#00e100" stroke-width="2.36" d="M384.6,352 387.5,344 392.9,330.6 397.5,317.4 401.5,308"/><path stroke="#0ae800" stroke-width="2.36" d="M401.5,308 404.3,302.4"/><path stroke="#14f000" stroke-width="2.36" d="M404.3,302.4 406.4,298.5"/><path stroke="#3df000" stroke-width="2.36" d="M406.4,298.5 408.5,294.6"/><path stroke="#66f000" stroke-width="2.36" d="M408.5,294.6 410,291.3 411.5,288"/><path stroke="#8bf000" stroke-width="2.36" d="M411.5,288 412.8,284.7"/><path stroke="#aff000" stroke-width="2.36" d="M412.8,284.7 414,281.4"/><path stroke="#cded00" stroke-width="2.36" d="M414,281.4 417,276"/><path stroke="#e6e900" stroke-width="2.36" d="M417,276 419.5,271.2"/></g><g><path stroke="#cded00" stroke-width="3.33" d="M499,150.4 502,150"/><path stroke="#e6e900" stroke-width="3.34" d="M502,150 505,149.6"/><path stroke="#f7dd00" stroke-width="3.35" d="M505,149.6 507,146.8"/><path stroke="#fbc600" stroke-width="3.36" d="M507,146.8 509,144"/><path stroke="#ffac00" stroke-width="3.39" d="M509,144 512.5,139.2"/><path stroke="#ff8400" stroke-width="3.41" d="M512.5,139.2 514.6,137.2"/><path stroke="#ff5900" stroke-width="3.42" d="M514.6,137.2 516.7,135.2"/><path stroke="#ff1f00" stroke-width="3.43" d="M516.7,135.2 518.4,134.6 520,134"/><path stroke="#f40f00" stroke-width="3.44" d="M520,134 525,132.3"/></g><g><path stroke="#66f000" stroke-width="3.57" d="M533,115.2 538,109.6"/><path stroke="#8bf000" stroke-width="3.59" d="M538,109.6 539.5,108"/><path stroke="#aff000" stroke-width="3.60" d="M539.5,108 541,106.4"/><path stroke="#cded00" stroke-width="3.61" d="M541,106.4 543.5,104"/><path stroke="#e6e900" stroke-width="3.64" d="M543.5,104 546,101.6 550,96"/><path stroke="#f7dd00" stroke-width="3.69" d="M550,96 552,90.4"/><path stroke="#ffac00" stroke-width="3.72" d="M552,90.4 554,85.6 557,82.4"/><path stroke="#ff8400" stroke-width="3.72" d="M557,82.4 559,81.6"/><path stroke="#ff5900" stroke-width="3.72" d="M559,81.6 559.5,82.4"/><path stroke="#ff1f00" stroke-width="3.72" d="M559.5,82.4 560,83.2"/><path stroke="#f40f00" stroke-width="3.71" d="M560,83.2 564,87.2 567,91.2 570,95.2"/></g><g><path stroke="#00af08" stroke-width="3.35" d="M509,152 512,147.2 515,142"/><path stroke="#00ba04" stroke-width="3.40" d="M515,142 518,137.6"/><path stroke="#00c600" stroke-width="3.44" d="M518,137.6 520,133.4 522.5,129.6"/><path stroke="#00d300" stroke-width="3.47" d="M522.5,129.6 525,126.4"/><path stroke="#00e100" stroke-width="3.61" d="M525,126.4 527,123.2 529,120 532,115.2 537,106.4 540,101.6 543,98.4 545,92 549,87.2 552,82.4"/><path stroke="#0ae800" stroke-width="3.72" d="M552,82.4 554.5,80 556,76.8"/><path stroke="#14f000" stroke-width="3.72" d="M556,76.8 558.5,74.5"/><path stroke="#3df000" stroke-width="3.72" d="M558.5,74.5 561,72.2"/><path stroke="#66f000" stroke-width="3.72" d="M561,72.2 565.5,70.4"/><path stroke="#8bf000" stroke-width="3.72" d="M565.5,70.4 567.8,70.4"/><path stroke="#aff000" stroke-width="3.72" d="M567.8,70.4 570,70.4"/><path stroke="#cded00" stroke-width="3.72" d="M570,70.4 572.5,70.1"/><path stroke="#e6e900" stroke-width="3.72" d="M572.5,70.1 575,69.8 575.3,74.4"/><path stroke="#f7dd00" stroke-width="3.72" d="M575.3,74.4 575.3,79.2 576,84.8"/><path stroke="#fbc600" stroke-width="3.72" d="M576,84.8 579,90.4"/><path stroke="#ffac00" stroke-width="3.69" d="M579,90.4 582,96"/><path stroke="#ff8400" stroke-width="3.65" d="M582,96 585,101.6"/><path stroke="#ff5900" stroke-width="3.63" d="M585,101.6 586,104"/><path stroke="#ff1f00" stroke-width="3.61" d="M586,104 587,106.4"/><path stroke="#f40f00" stroke-width="3.54" d="M587,106.4 589,112 592,120 595,128.8"/></g><g><path stroke="#f40f00" stroke-width="3.72" d="M558.5,81.6 561.5,76"/><path stroke="#ff1f00" stroke-width="3.72" d="M561.5,76 563,74.9 564.5,73.8"/><path stroke="#ff5900" stroke-width="3.72" d="M564.5,73.8 566.5,73.2"/><path stroke="#ff8400" stroke-width="3.72" d="M566.5,73.2 568.5,72.6"/><path stroke="#ffac00" stroke-width="3.72" d="M568.5,72.6 572,72"/><path stroke="#fbc600" stroke-width="3.72" d="M572,72 573.8,71.5"/><path stroke="#f7dd00" stroke-width="3.72" d="M573.8,71.5 575.5,71"/><path stroke="#e6e900" stroke-width="3.72" d="M575.5,71 577,71.6"/><path stroke="#cded00" stroke-width="3.72" d="M577,71.6 578.5,72.2"/><path stroke="#aff000" stroke-width="3.72" d="M578.5,72.2 579.9,73.9"/><path stroke="#8bf000" stroke-width="3.72" d="M579.9,73.9 581.3,75.6"/><path stroke="#66f000" stroke-width="3.72" d="M581.3,75.6 584,80.8"/><path stroke="#3df000" stroke-width="3.72" d="M584,80.8 586,86.4"/><path stroke="#14f000" stroke-width="3.71" d="M586,86.4 589,93.6"/><path stroke="#0ae800" stroke-width="3.64" d="M589,93.6 592,101.6 594,108"/><path stroke="#00e100" stroke-width="3.52" d="M594,108 597,116 601,124 604,132"/><path stroke="#0ae800" stroke-width="3.38" d="M604,132 607,140 611,148 612,152"/></g><g><path stroke="#000abf" d="M257,379.2 258,380 261,384.8"/><path stroke="#0013d4" d="M261,384.8 264,390.4 265,392.8"/><path stroke="#0027e2" d="M265,392.8 269,400"/><path stroke="#0049e3" d="M269,400 271,402.8 273,405.6"/><path stroke="#0068e2" d="M273,405.6 275,408"/><path stroke="#007ada" d="M275,408 277,410.4"/><path stroke="#008cd2" d="M277,410.4 279,412.4"/><path stroke="#0095c0" d="M279,412.4 281,414.4"/><path stroke="#009eae" d="M281,414.4 283.5,415.6"/><path stroke="#00a096" d="M283.5,415.6 286,416.8"/><path stroke="#00a07d" d="M286,416.8 289,417.2"/><path stroke="#00a066" d="M289,417.2 292,417.6"/><path stroke="#00a04f" d="M292,417.6 295,418"/><path stroke="#00a336" d="M295,418 298,418.4"/><path stroke="#00a71a" d="M298,418.4 300.5,420"/><path stroke="#00af08" d="M300.5,420 303,421.6"/><path stroke="#00ba04" d="M303,421.6 308,422.4"/><path stroke="#00c600" d="M308,422.4 313,424"/><path stroke="#00d300" d="M313,424 315.2,424.9"/><path stroke="#00e100" d="M315.2,424.9 317.5,425.8 322.8,428.2"/><path stroke="#0ae800" d="M322.8,428.2 325.8,429.1"/><path stroke="#14f000" d="M325.8,429.1 328.8,430"/><path stroke="#3df000" d="M328.8,430 331.8,430.3"/><path stroke="#66f000" d="M331.8,430.3 334.8,430.6"/><path stroke="#8bf000" d="M334.8,430.6 337.4,430.3"/><path stroke="#aff000" d="M337.4,430.3 340,430.1"/><path stroke="#cded00" d="M340,430.1 342.2,429.9"/><path stroke="#e6e900" d="M342.2,429.9 344.5,429.7"/><path stroke="#f7dd00" d="M344.5,429.7 346.8,429.5"/><path stroke="#fbc600" d="M346.8,429.5 349,429.4"/><path stroke="#ffac00" d="M349,429.4 352.8,428.5"/><path stroke="#ff8400" d="M352.8,428.5 354.4,427.7"/></g><g stroke-width="2.13"><path stroke="#f40f00" d="M356.7,421 359.5,417.4 361.8,413.8"/></g><g><path stroke="#0013d4" d="M313.8,405.4 321.2,409 328.8,413.2 333,416 336,418.8"/></g><g stroke-width="2.23"><path stroke="#007ada" stroke-width="1.69" d="M432.5,244.8 436.5,239.2"/><path stroke="#0068e2" stroke-width="1.69" d="M436.5,239.2 439.5,235.2"/><path stroke="#0049e3" stroke-width="1.69" d="M439.5,235.2 442,230.4 444,226.4"/></g><g><path stroke="#000abf" stroke-width="2.36" d="M411.3,308 413,303.2"/><path stroke="#0013d4" stroke-width="2.36" d="M413,303.2 416.5,294.6"/><path stroke="#0027e2" stroke-width="2.36" d="M416.5,294.6 418.5,288"/><path stroke="#0049e3" stroke-width="2.36" d="M418.5,288 420.3,281.4"/><path stroke="#0068e2" stroke-width="2.36" d="M420.3,281.4 421.4,278.7"/><path stroke="#007ada" stroke-width="2.36" d="M421.4,278.7 422.5,276"/><path stroke="#008cd2" stroke-width="2.36" d="M422.5,276 423.7,273.6"/><path stroke="#0095c0" stroke-width="2.36" d="M423.7,273.6 424.9,271.2 426.4,268.8"/><path stroke="#00a096" stroke-width="2.36" d="M426.4,268.8 428,266.4 430.3,262"/><path stroke="#00a07d" stroke-width="2.36" d="M430.3,262 434,254.4"/><path stroke="#00a066" stroke-width="2.36" d="M434,254.4 436.5,248"/><path stroke="#00a04f" stroke-width="2.36" d="M436.5,248 439,242.4"/><path stroke="#00a336" stroke-width="2.36" d="M439,242.4 441,237.2 443,232"/><path stroke="#00a71a" stroke-width="2.36" d="M443,232 446,224.8"/><path stroke="#00ba04" d="M446,224.8 450,217.6"/><path stroke="#00c600" d="M450,217.6 453,210.4 455.5,204 457,200 459,193.6 460.8,188 462.5,182.4 464,177.6 465.5,173.6 467.5,169.6 470,166"/><path stroke="#00ba04" stroke-width="3.25" d="M470,166 474,162.8"/><path stroke="#00af08" stroke-width="3.26" d="M474,162.8 478,160.2"/><path stroke="#00a71a" stroke-width="3.28" d="M478,160.2 483,157.8"/><path stroke="#00af08" stroke-width="3.29" d="M483,157.8 484,157.4"/><path stroke="#00ba04" stroke-width="3.29" d="M484,157.4 485,156.9"/><path stroke="#00c600" stroke-width="3.29" d="M485,156.9 486,156.4"/><path stroke="#00d300" stroke-width="3.30" d="M486,156.4 487.5,155.4"/><path stroke="#00e100" stroke-width="3.31" d="M487.5,155.4 489,154.4 492,150.8"/></g><g><path stroke="#0013d4" stroke-width="3.20" d="M470.5,172.8 472,171.2"/><path stroke="#0027e2" stroke-width="3.21" d="M472,171.2 475,168.8"/></g><g><path stroke="#00e100" stroke-width="3.34" d="M612,144 615,154.4"/><path stroke="#00d300" stroke-width="3.29" d="M615,154.4 619,160.8"/><path stroke="#00c600" stroke-width="3.25" d="M619,160.8 622,167.2"/><path stroke="#00ba04" stroke-width="3.21" d="M622,167.2 625,172"/><path stroke="#00af08" d="M625,172 628,174.8"/><path stroke="#00a71a" d="M628,174.8 633,175.6"/><path stroke="#00a336" d="M633,175.6 635,177 637,178.4"/><path stroke="#00a04f" d="M637,178.4 640,177.6"/><path stroke="#00a066" d="M640,177.6 642,180.8 645,185.6"/><path stroke="#00a07d" d="M645,185.6 647,188.8 649,192"/><path stroke="#00a096" d="M649,192 651,196.8"/><path stroke="#009eae" d="M651,196.8 653,202.4"/><path stroke="#0095c0" d="M653,202.4 655,207.2 657,212"/><path stroke="#008cd2" d="M657,212 660,216"/><path stroke="#007ada" d="M660,216 663,217.6"/><path stroke="#0068e2" d="M663,217.6 666,216.8"/><path stroke="#0049e3" d="M666,216.8 669,212.8"/><path stroke="#0027e2" d="M669,212.8 672,210.8"/></g><g><path stroke="#e70800" d="M127,256 128.2,252.8"/><path stroke="#f40f00" d="M128.2,252.8 130.5,249.6"/><path stroke="#ff1f00" d="M130.5,249.6 132.5,248.5 134.5,247.4"/><path stroke="#ff5900" d="M134.5,247.4 136.8,247.2"/><path stroke="#ff8400" d="M136.8,247.2 139,246.9"/><path stroke="#ffac00" d="M139,246.9 142,248.8"/><path stroke="#fbc600" d="M142,248.8 143.2,251.6"/><path stroke="#f7dd00" d="M143.2,251.6 144.5,254.4 147,257.6"/><path stroke="#e6e900" d="M147,257.6 150,262.4"/><path stroke="#cded00" d="M150,262.4 154,268"/><path stroke="#aff000" d="M154,268 157,272"/><path stroke="#8bf000" d="M157,272 160,274.4"/><path stroke="#66f000" d="M160,274.4 162,276 164,277.6"/><path stroke="#3df000" d="M164,277.6 165.5,280"/><path stroke="#14f000" d="M165.5,280 167,282.4"/><path stroke="#0ae800" d="M167,282.4 170,289.6"/><path stroke="#00e100" d="M170,289.6 173,297.6"/><path stroke="#00d300" d="M173,297.6 177,305.6"/><path stroke="#00c600" d="M177,305.6 179.5,312 183.6,322.4"/><path stroke="#00ba04" d="M183.6,322.4 186,326.4"/><path stroke="#00af08" d="M186,326.4 188.4,330.4"/><path stroke="#00a71a" d="M188.4,330.4 189.7,334.4"/><path stroke="#00a336" d="M189.7,334.4 191,338.4"/><path stroke="#00a04f" d="M191,338.4 192.5,342.4"/><path stroke="#00a066" d="M192.5,342.4 194,346.4"/><path stroke="#00a07d" d="M194,346.4 197,352"/><path stroke="#00a096" d="M197,352 198.5,355.2 200,358.4"/><path stroke="#009eae" d="M200,358.4 202,362"/><path stroke="#008cd2" d="M202,362 204,365.6"/><path stroke="#007ada" d="M204,365.6 206,368"/><path stroke="#0068e2" d="M206,368 208,370.4"/><path stroke="#0049e3" d="M208,370.4 210,371.6"/><path stroke="#0027e2" d="M210,371.6 212,372.8"/><path stroke="#0013d4" d="M212,372.8 214,373.6 216,374.4"/></g><g><path stroke="#f40f00" d="M289,399.2 290,399.4"/><path stroke="#ff1f00" d="M290,399.4 291,399.6"/><path stroke="#ff5900" d="M291,399.6 292,399.8"/><path stroke="#ff8400" d="M292,399.8 293,400"/><path stroke="#ffac00" d="M293,400 295.5,400.4"/><path stroke="#fbc600" d="M295.5,400.4 298,400.8 300,402"/><path stroke="#f7dd00" d="M300,402 302,403.2"/><path stroke="#e6e900" d="M302,403.2 304,405.2"/><path stroke="#cded00" d="M304,405.2 306,407.2"/><path stroke="#aff000" d="M306,407.2 308,408.1"/><path stroke="#8bf000" d="M308,408.1 310,409"/><path stroke="#66f000" d="M310,409 312.5,410"/><path stroke="#3df000" d="M312.5,410 315,411"/><path stroke="#14f000" d="M315,411 317.5,412"/><path stroke="#0ae800" d="M317.5,412 321.2,413.5"/><path stroke="#00e100" d="M321.2,413.5 325,415"/><path stroke="#00d300" d="M325,415 328.8,416.6"/><path stroke="#00c600" d="M328.8,416.6 332.5,418.2"/><path stroke="#00ba04" d="M332.5,418.2 336.2,419.7"/><path stroke="#00af08" d="M336.2,419.7 340,421.2"/><path stroke="#00a71a" d="M340,421.2 342.2,422.2"/><path stroke="#00a336" d="M342.2,422.2 344.5,423.2"/><path stroke="#00a04f" d="M344.5,423.2 346.8,424"/><path stroke="#00a066" d="M346.8,424 349,424.8"/><path stroke="#00a07d" d="M349,424.8 353.5,425.1"/><path stroke="#00a096" d="M353.5,425.1 357.2,424"/><path stroke="#009eae" d="M357.2,424 361,420.8"/><path stroke="#0095c0" d="M361,420.8 363.2,417"/><path stroke="#008cd2" d="M363.2,417 365.5,412"/><path stroke="#007ada" d="M365.5,412 367.8,406.6 370,401.2 372.5,396.8"/><path stroke="#008cd2" stroke-width="2.36" d="M372.5,396.8 376.5,388.8"/><path stroke="#0095c0" stroke-width="2.36" d="M376.5,388.8 378.2,385.2"/><path stroke="#009eae" stroke-width="2.36" d="M378.2,385.2 380,381.6"/><path stroke="#00a096" stroke-width="2.36" d="M380,381.6 383.2,376"/><path stroke="#00a07d" stroke-width="2.36" d="M383.2,376 384.5,372"/><path stroke="#00a066" stroke-width="2.36" d="M384.5,372 385.9,368"/><path stroke="#00a04f" stroke-width="2.36" d="M385.9,368 388.7,360"/><path stroke="#00a336" stroke-width="2.36" d="M388.7,360 390.1,356"/><path stroke="#00a71a" stroke-width="2.36" d="M390.1,356 391.5,352"/><path stroke="#00af08" stroke-width="2.36" d="M391.5,352 394.3,344"/><path stroke="#00ba04" stroke-width="2.36" d="M394.3,344 400.1,330.6"/><path stroke="#00c600" stroke-width="2.36" d="M400.1,330.6 405.7,317.4"/><path stroke="#00d300" stroke-width="2.36" d="M405.7,317.4 409,308"/><path stroke="#00e100" stroke-width="2.36" d="M409,308 413.6,294.6 415,290.2"/><path stroke="#0ae800" stroke-width="2.36" d="M415,290.2 416.4,285.8"/><path stroke="#14f000" stroke-width="2.36" d="M416.4,285.8 417.8,281.4"/><path stroke="#3df000" stroke-width="2.36" d="M417.8,281.4 418.9,279.3"/><path stroke="#66f000" stroke-width="2.36" d="M418.9,279.3 419.9,277.3"/><path stroke="#8bf000" stroke-width="2.36" d="M419.9,277.3 421,275.2"/><path stroke="#aff000" stroke-width="2.36" d="M421,275.2 422.5,272"/><path stroke="#cded00" stroke-width="2.36" d="M422.5,272 424,268.8"/><path stroke="#f7dd00" stroke-width="2.36" d="M424,268.8 427.2,262"/><path stroke="#fbc600" stroke-width="2.36" d="M427.2,262 431,252"/><path stroke="#ffac00" stroke-width="2.36" d="M431,252 434.3,246.4"/><path stroke="#ff8400" stroke-width="2.36" d="M434.3,246.4 436.1,244.4"/><path stroke="#ff5900" stroke-width="2.36" d="M436.1,244.4 438,242.4"/><path stroke="#ff1f00" stroke-width="2.36" d="M438,242.4 440,240.8"/><path stroke="#f40f00" stroke-width="2.36" d="M440,240.8 442,239.2"/></g><g><path stroke="#8bf000" d="M100.5,220.4 102,224.8"/><path stroke="#66f000" d="M102,224.8 102.5,226.6 103,228.4"/><path stroke="#3df000" d="M103,228.4 105.5,230.8"/><path stroke="#14f000" d="M105.5,230.8 109,234"/><path stroke="#0ae800" d="M109,234 113,235.2"/><path stroke="#00e100" d="M113,235.2 117,235.2 118.5,234.4"/><path stroke="#00d300" d="M118.5,234.4 120,233.6"/><path stroke="#00c600" d="M120,233.6 121.2,232.4"/><path stroke="#00ba04" d="M121.2,232.4 122.5,231.2"/><path stroke="#00af08" d="M122.5,231.2 125,230.2 128,229.8"/><path stroke="#00a71a" d="M128,229.8 132,229.6 135.5,232 138.5,236.4 141,242.4"/><path stroke="#00a336" d="M141,242.4 144,247.2"/><path stroke="#00a04f" d="M144,247.2 148,252"/><path stroke="#00a07d" d="M148,252 152,257.6"/><path stroke="#00a096" d="M152,257.6 155,264"/><path stroke="#009eae" d="M155,264 160,272"/><path stroke="#0095c0" d="M160,272 161.5,276"/><path stroke="#008cd2" d="M161.5,276 163,280"/><path stroke="#007ada" d="M163,280 164.5,284 166,288"/><path stroke="#0068e2" d="M166,288 167.5,292"/><path stroke="#0049e3" d="M167.5,292 169,296"/><path stroke="#0027e2" d="M169,296 172,304"/><path stroke="#0013d4" d="M172,304 176,316"/><path stroke="#000abf" d="M176,316 179,324.8"/></g><g stroke-width="2.23"><path stroke="#0013d4" stroke-width="1.69" d="M371,400 374.5,390.4 377.5,382.4 380.3,376 383.2,368 386,360 389,352 391.7,346.2"/></g><g><path stroke="#f40f00" d="M626,190.4 628,193.6 632,194.8 633.5,196.2"/><path stroke="#ff1f00" d="M633.5,196.2 635,197.6"/><path stroke="#ff5900" d="M635,197.6 635.8,197.8"/><path stroke="#ff8400" d="M635.8,197.8 636.5,198"/></g><g><path stroke="#f40f00" stroke-width="3.32" d="M477,154.4 479,152.2"/><path stroke="#ff1f00" stroke-width="3.33" d="M479,152.2 481,150"/><path stroke="#ff5900" stroke-width="3.34" d="M481,150 483.2,147"/><path stroke="#ffac00" stroke-width="3.36" d="M483.2,147 485.5,144"/><path stroke="#fbc600" stroke-width="3.39" d="M485.5,144 487.5,140.8 489.5,137.6"/><path stroke="#f7dd00" stroke-width="3.42" d="M489.5,137.6 491.2,134.4"/><path stroke="#e6e900" stroke-width="3.44" d="M491.2,134.4 493,131.2"/><path stroke="#cded00" stroke-width="3.46" d="M493,131.2 494.2,129.4"/><path stroke="#aff000" stroke-width="3.47" d="M494.2,129.4 495.5,127.6"/><path stroke="#8bf000" stroke-width="3.48" d="M495.5,127.6 497,126.6"/><path stroke="#66f000" stroke-width="3.48" d="M497,126.6 499,128"/><path stroke="#3df000" stroke-width="3.46" d="M499,128 501,130.8"/><path stroke="#14f000" stroke-width="3.45" d="M501,130.8 504,132"/><path stroke="#0ae800" stroke-width="3.45" d="M504,132 508,132.6"/><path stroke="#00e100" stroke-width="3.45" d="M508,132.6 512,131.2"/><path stroke="#00d300" stroke-width="3.46" d="M512,131.2 516,128.4"/><path stroke="#00c600" stroke-width="3.54" d="M516,128.4 520,124.8 523,121.6 525,117.6 528,106.4 533,101.6"/><path stroke="#00ba04" stroke-width="3.64" d="M533,101.6 535.5,99.6"/><path stroke="#00af08" stroke-width="3.65" d="M535.5,99.6 538,97.6"/><path stroke="#00a71a" stroke-width="3.66" d="M538,97.6 539,96.4"/><path stroke="#00a336" stroke-width="3.67" d="M539,96.4 540,95.2"/><path stroke="#00a04f" stroke-width="3.68" d="M540,95.2 544,94.8 547,94.4"/></g></g></g>
<g class="ax"><rect x="100.5" y="59.5" width="572" height="491"/><path d="M100.5 550.5v-6.6M100.5 59.5v6.6M124.5 550.5v-6.6M124.5 59.5v6.6M148.5 550.5v-6.6M148.5 59.5v6.6M172.5 550.5v-6.6M172.5 59.5v6.6M196.5 550.5v-6.6M196.5 59.5v6.6M220.5 550.5v-6.6M220.5 59.5v6.6M244.5 550.5v-6.6M244.5 59.5v6.6M268.5 550.5v-6.6M268.5 59.5v6.6M292.5 550.5v-6.6M292.5 59.5v6.6M316.5 550.5v-6.6M316.5 59.5v6.6M340.5 550.5v-6.6M340.5 59.5v6.6M364.5 550.5v-6.6M364.5 59.5v6.6M388.5 550.5v-6.6M388.5 59.5v6.6M412.5 550.5v-6.6M412.5 59.5v6.6M436.5 550.5v-6.6M436.5 59.5v6.6M459.5 550.5v-6.6M459.5 59.5v6.6M483.5 550.5v-6.6M483.5 59.5v6.6M507.5 550.5v-6.6M507.5 59.5v6.6M531.5 550.5v-6.6M531.5 59.5v6.6M555.5 550.5v-6.6M555.5 59.5v6.6M579.5 550.5v-6.6M579.5 59.5v6.6M603.5 550.5v-6.6M603.5 59.5v6.6M627.5 550.5v-6.6M627.5 59.5v6.6M651.5 550.5v-6.6M651.5 59.5v6.6M100.5 550.5h6.6M672.5 550.5h-6.6M100.5 452.5h6.6M672.5 452.5h-6.6M100.5 354.5h6.6M672.5 354.5h-6.6M100.5 256.5h6.6M672.5 256.5h-6.6M100.5 157.5h6.6M672.5 157.5h-6.6M100.5 59.5h6.6M672.5 59.5h-6.6"/></g>
<g class="t12" text-anchor="middle"><text x="100.2" y="567.6">0</text><text x="124.2" y="567.6">1</text><text x="148.2" y="567.6">2</text><text x="172.2" y="567.6">3</text><text x="196.2" y="567.6">4</text><text x="220.2" y="567.6">5</text><text x="244.2" y="567.6">6</text><text x="268.2" y="567.6">7</text><text x="292.2" y="567.6">8</text><text x="316.2" y="567.6">9</text><text x="340.7" y="567.6" style="letter-spacing:-1px">10</text><text x="364.7" y="567.6" style="letter-spacing:-1px">11</text><text x="388.7" y="567.6" style="letter-spacing:-1px">12</text><text x="412.7" y="567.6" style="letter-spacing:-1px">13</text><text x="436.7" y="567.6" style="letter-spacing:-1px">14</text><text x="459.7" y="567.6" style="letter-spacing:-1px">15</text><text x="483.7" y="567.6" style="letter-spacing:-1px">16</text><text x="507.7" y="567.6" style="letter-spacing:-1px">17</text><text x="531.7" y="567.6" style="letter-spacing:-1px">18</text><text x="555.7" y="567.6" style="letter-spacing:-1px">19</text><text x="579.7" y="567.6" style="letter-spacing:-1px">20</text><text x="603.7" y="567.6" style="letter-spacing:-1px">21</text><text x="627.7" y="567.6" style="letter-spacing:-1px">22</text><text x="651.7" y="567.6" style="letter-spacing:-1px">23</text></g>
<g class="t12" text-anchor="end"><text x="94.6" y="554.6">0</text><text x="94.1" y="456.4" style="letter-spacing:-1px">10</text><text x="94.1" y="358.2" style="letter-spacing:-1px">20</text><text x="94.1" y="260.0" style="letter-spacing:-1px">30</text><text x="94.1" y="161.8" style="letter-spacing:-1px">40</text><text x="94.1" y="63.6" style="letter-spacing:-1px">50</text></g>
<text class="t12" x="386.5" y="590.5" text-anchor="middle">Time [UT]</text>
<text class="t12" transform="translate(65,305.5) rotate(-90)" text-anchor="middle">TEC [UNITS]</text>
<text class="t12" x="387" y="52" text-anchor="middle">AYACUCHO, Peru</text>
<text class="t10" x="39" y="31">2016/04/17</text>
<text class="t10" x="760" y="27" text-anchor="end">rx_bias = 51.0</text>
<text class="t10" x="760" y="42" text-anchor="end">elevation &gt; 30</text>
<text class="ft" x="800" y="586" text-anchor="end">LISN</text>
<text class="ft" x="800" y="598" text-anchor="end">Low-Latitude Ionospheric Sensor Network</text>
<rect x="704.5" y="182.5" width="12" height="244.7" fill="url(#cb)" stroke="#000" stroke-width="1" shape-rendering="crispEdges"/>
<g class="sat"><text x="720.9" y="202.9">−9</text><text x="720.9" y="228.9">−10</text><text x="720.9" y="255.9">−11</text><text x="720.9" y="281.9">−12</text><text x="720.9" y="308.9">−13</text><text x="720.9" y="334.9">−14</text><text x="720.9" y="360.9">−15</text><text x="720.9" y="387.9">−16</text><text x="720.9" y="413.9">−17</text></g>
<path class="ax" d="M716.5 200.5h-5.5M716.5 226.5h-5.5M716.5 253.5h-5.5M716.5 279.5h-5.5M716.5 306.5h-5.5M716.5 332.5h-5.5M716.5 358.5h-5.5M716.5 385.5h-5.5M716.5 411.5h-5.5"/>
<text class="t12" transform="translate(760.5,305) rotate(-90)" text-anchor="middle" style="font-size:13.89px">Latitude</text>
<g class="sat"><text x="100.1" y="262">G06</text><text x="100.1" y="275">G30</text><text x="100.1" y="291.5">G07</text><text x="100.1" y="293.2">G09</text><text x="100.1" y="301">G03</text><text x="127.8" y="319">G28</text><text x="155.8" y="287">G05</text><text x="190.3" y="403">G13</text><text x="214.3" y="418">G20</text><text x="193.9" y="440">G17</text><text x="203.3" y="440">G19</text><text x="222.8" y="436">G15</text><text x="226.8" y="447">G12</text><text x="257.8" y="474">G24</text><text x="288.8" y="499">G29</text><text x="313.8" y="507">G25</text><text x="348.8" y="516">G21</text><text x="279.8" y="531">G02</text><text x="370.8" y="500">G31</text><text x="390.6" y="429">G18</text><text x="411.2" y="382">G26</text><text x="412.8" y="342">G10</text><text x="439.8" y="310">G16</text><text x="470.8" y="217">G27</text><text x="476.8" y="193">G32</text><text x="483.1" y="187">G14</text><text x="496.6" y="182">G22</text><text x="498.8" y="198">G08</text><text x="534.8" y="141">G11</text><text x="554.8" y="145">G01</text><text x="557.8" y="103">G23</text></g>
</svg>
</body></html>
